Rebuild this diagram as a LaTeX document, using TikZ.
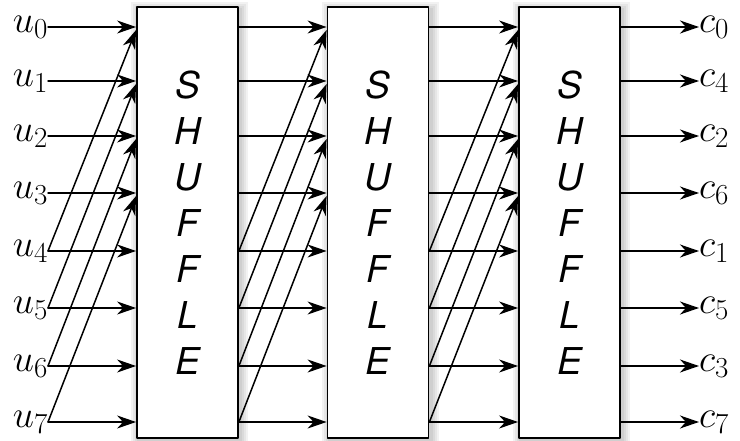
\RequirePackage{fix-cm}
\documentclass[tikz,border=0pt]{standalone}
\usepackage{fontspec}
\newfontfamily\shuffont{TeX Gyre Heros}
\usetikzlibrary{arrows.meta,calc}
\DeclareMathSizes{38}{38}{29}{22}

\begin{document}
\begin{tikzpicture}[
		x=1pt,
		y=-1pt,
		line cap=round,
		line join=round,
		wire/.style={-{Stealth[length=19pt,width=13pt,inset=6pt]},line width=1.5pt},
		shufbox/.style={draw,line width=1.8pt,fill=white,minimum width=101pt,
			minimum height=431pt,inner sep=0pt,align=center,
			font=\shuffont\itshape\fontsize{37}{46}\selectfont},
		halo/.style={fill=black,opacity=0.05},
		lbl/.style={font=\fontsize{38}{38}\selectfont,inner sep=0pt}
		]
		\useasboundingbox (0,0) rectangle (740,441);
		
		% soft shadow behind the stages
		\foreach \x in {187.5,378,569.5}
		\foreach \d in {2,4,6,8}
		\fill[halo] (\x-50.5-\d+2,7-\d+3) rectangle (\x+50.5+\d+2,438+\d+3);
		
		% the three shuffle stages
		\node[shufbox] (s1) at (187.5,222.5) {S\\H\\U\\F\\F\\L\\E};
		\node[shufbox] (s2) at (378,222.5) {S\\H\\U\\F\\F\\L\\E};
		\node[shufbox] (s3) at (569.5,222.5) {S\\H\\U\\F\\F\\L\\E};
		
		% ports on the box sides
		\foreach \i/\y in {0/27,1/81,2/136,3/193,4/251,5/308,6/366,7/422}
		{
			\foreach \k in {1,2,3}
			{
				\coordinate (w\k\i) at (s\k.west |- 0,\y);
				\coordinate (e\k\i) at (s\k.east |- 0,\y);
			}
			\node[lbl,anchor=east] (u\i) at (48,\y) {$u_{\i}$};
		}
		\foreach \i/\c in {0/0,1/4,2/2,3/6,4/1,5/5,6/3,7/7}
		\node[lbl,anchor=west] (c\i) at (699,0 |- e3\i) {$c_{\c}$};
		
		% inputs
		\foreach \i in {0,...,7}
		\draw[wire] (u\i.east) -- (w1\i);
		\foreach \i in {0,...,3}
		{
			\pgfmathtruncatemacro{\j}{\i+4}
			\draw[wire] (u\j.east) -- ($(w1\i)+(0,3)$);
		}
		
		% between the stages
		\foreach \k/\n in {1/2,2/3}
		{
			\foreach \i in {0,...,7}
			\draw[wire] (e\k\i) -- (w\n\i);
			\foreach \i in {0,...,3}
			{
				\pgfmathtruncatemacro{\j}{\i+4}
				\draw[wire] (e\k\j) -- ($(w\n\i)+(0,3)$);
			}
		}
		
		% outputs
		\foreach \i in {0,...,7}
		\draw[wire] (e3\i) -- (c\i.west);
	\end{tikzpicture}
\end{document}
